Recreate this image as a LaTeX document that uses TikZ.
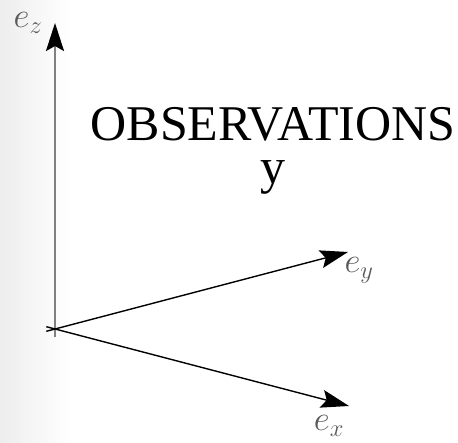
\RequirePackage{fix-cm}
\documentclass[tikz,border=0pt]{standalone}
\usepackage{amsmath}
\usepackage{fontspec}
\newfontfamily\obsfont{Liberation Serif}
\usepackage{tikz}
\usetikzlibrary{arrows.meta}

\tikzset{
  axis/.style={line width=1.4pt,-{Stealth[length=28pt,width=18pt,inset=5pt,color=black]}},
  axislabel/.style={text=black!65,font=\fontsize{35}{37}\selectfont,inner sep=0pt,anchor=base},
  bigtext/.style={font=\obsfont\fontsize{50}{52}\selectfont,inner sep=0pt,anchor=base}
}

\begin{document}
\begin{tikzpicture}[x=1pt,y=-1pt]
\useasboundingbox (0,0) rectangle (458,443);
\shade[left color=black!7,right color=white] (0,0) rectangle (70,443);
% axes
\coordinate (o) at (55,329);
\coordinate (ez) at (55,23);
\coordinate (ey) at (348,252);
\coordinate (ex) at (349,406);
\coordinate (oz) at (55,337);
\coordinate (oy) at (46.3,331.3);
\coordinate (ox) at (46.3,326.7);
\draw[axis,draw=black!50,line width=2pt] (oz) -- (ez);
\draw[axis] (oy) -- (ey);
\draw[axis] (ox) -- (ex);
\node[axislabel] (lz) at (28,28) {\(e_z\)};
\node[axislabel] (ly) at (359,273) {\(e_y\)};
\node[axislabel] (lx) at (329,431) {\(e_x\)};
\node[bigtext] (obs) at (273,141) {OBSERVATIONS};
\node[bigtext] (obsy) at (273,184) {y};
\end{tikzpicture}
\end{document}
